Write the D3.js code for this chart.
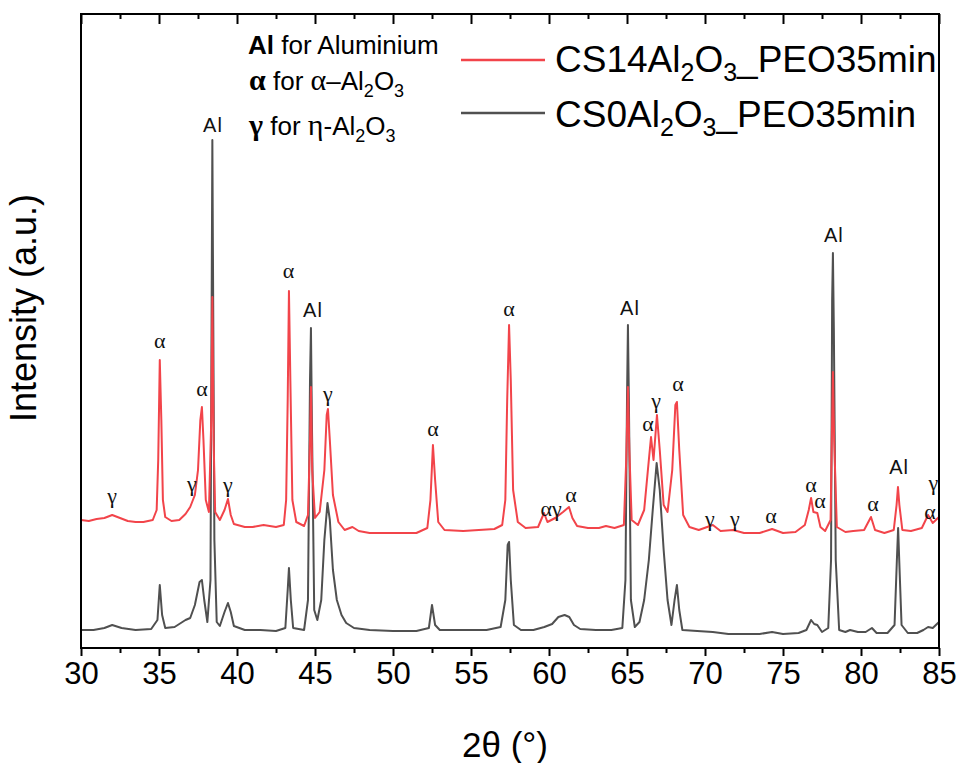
<!DOCTYPE html>
<html>
<head>
<meta charset="utf-8">
<script src="https://cdn.jsdelivr.net/npm/d3@7"></script>
<style>
  body { margin: 0; background: #fff; }
  svg { display: block; font-family: "Liberation Sans", Arial, sans-serif; }
  svg .greek { font-family: "Liberation Serif", "Times New Roman", serif; }
</style>
</head>
<body>
<div id="chart"></div>
<script>
// XRD patterns, [2theta (deg), intensity (a.u.)]
const cs14Pattern = [
    [30.0,1280],[30.5,1270],[31.0,1290],[31.5,1300],[32.0,1330],[32.5,1300],[33.0,1270],[33.5,1260],
    [34.0,1260],[34.6,1280],[34.85,1380],[34.95,1880],[35.05,2880],[35.15,2280],[35.25,1480],[35.4,1310],
    [35.8,1270],[36.3,1280],[36.7,1340],[37.0,1410],[37.3,1530],[37.5,1780],[37.65,2280],[37.75,2410],
    [37.85,2080],[38.0,1480],[38.2,1360],[38.35,2280],[38.42,3510],[38.5,2080],[38.6,1360],[38.9,1280],
    [39.2,1380],[39.42,1490],[39.6,1330],[39.8,1240],[40.5,1210],[41.0,1210],[41.7,1230],[42.5,1210],
    [43.0,1230],[43.15,1480],[43.25,2480],[43.33,3570],[43.42,2680],[43.55,1480],[43.8,1260],[44.3,1220],
    [44.55,1330],[44.68,2080],[44.74,2610],[44.82,1780],[45.0,1300],[45.3,1360],[45.6,1780],[45.75,2330],
    [45.83,2390],[45.95,2080],[46.15,1530],[46.5,1260],[46.9,1180],[47.4,1210],[47.8,1170],[48.5,1150],
    [49.5,1150],[50.5,1150],[51.5,1150],[52.2,1200],[52.4,1480],[52.56,2030],[52.7,1680],[52.9,1260],
    [53.3,1180],[54.5,1170],[55.5,1180],[56.5,1190],[57.0,1230],[57.2,1480],[57.32,2480],[57.44,3230],
    [57.55,2680],[57.7,1580],[58.0,1260],[58.5,1200],[59.3,1210],[59.68,1350],[59.9,1260],[60.4,1300],
    [60.9,1360],[61.28,1410],[61.5,1300],[61.8,1220],[62.5,1200],[63.2,1200],[63.65,1220],[64.2,1200],
    [64.8,1230],[64.95,1880],[65.06,2610],[65.15,1980],[65.3,1280],[65.7,1230],[66.1,1380],[66.4,1880],
    [66.54,2110],[66.7,1880],[66.92,2330],[67.1,1980],[67.35,1430],[67.6,1360],[67.9,1780],[68.1,2430],
    [68.2,2460],[68.35,1980],[68.6,1330],[69.0,1210],[69.6,1180],[70.5,1230],[71.0,1170],[71.8,1180],
    [72.5,1150],[73.5,1150],[74.3,1190],[75.0,1150],[75.8,1160],[76.4,1230],[76.65,1380],[76.8,1500],
    [76.95,1360],[77.2,1350],[77.4,1210],[77.7,1170],[78.05,1280],[78.15,2280],[78.2,2760],[78.28,2080],
    [78.45,1210],[79.0,1160],[79.5,1170],[80.2,1180],[80.64,1310],[80.9,1180],[81.5,1150],[82.1,1180],
    [82.28,1430],[82.37,1610],[82.46,1430],[82.65,1180],[83.2,1170],[83.9,1200],[84.3,1330],[84.6,1250],
    [85.0,1310]
];

const cs0Pattern = [
    [30.0,180],[30.8,180],[31.5,200],[32.0,230],[32.6,200],[33.5,180],[34.5,190],[34.9,280],
    [35.05,630],[35.2,330],[35.4,200],[36.0,210],[36.5,260],[36.7,280],[37.0,300],[37.3,430],
    [37.6,660],[37.75,680],[37.9,480],[38.1,260],[38.3,680],[38.42,5080],[38.55,1080],[38.7,260],
    [38.9,220],[39.2,360],[39.42,450],[39.6,360],[39.8,220],[40.5,180],[41.5,180],[42.5,170],
    [43.1,200],[43.25,580],[43.33,800],[43.45,480],[43.6,200],[44.3,180],[44.55,480],[44.68,2680],
    [44.74,3200],[44.8,2280],[44.95,380],[45.15,280],[45.4,480],[45.6,1080],[45.8,1450],[45.95,1280],
    [46.15,780],[46.4,480],[46.7,330],[47.0,250],[47.5,200],[48.5,180],[50.0,170],[51.5,170],
    [52.3,200],[52.5,430],[52.7,230],[53.0,180],[54.5,180],[56.0,180],[56.9,210],[57.2,480],
    [57.35,1030],[57.44,1060],[57.55,680],[57.75,230],[58.2,180],[59.0,180],[59.7,210],[60.2,240],
    [60.6,310],[61.0,330],[61.3,310],[61.6,230],[62.0,190],[63.0,180],[64.0,180],[64.7,200],
    [64.9,680],[65.0,2480],[65.06,3230],[65.12,2480],[65.25,480],[65.5,210],[65.8,260],[66.1,480],
    [66.4,880],[66.65,1380],[66.9,1850],[67.1,1580],[67.35,980],[67.6,480],[67.85,230],[68.05,480],
    [68.2,630],[68.35,380],[68.55,180],[69.5,170],[70.5,160],[71.5,140],[72.5,140],[73.5,140],
    [74.3,160],[75.0,140],[76.0,150],[76.5,180],[76.8,280],[77.0,240],[77.2,230],[77.5,160],
    [77.9,200],[78.08,880],[78.15,3480],[78.2,3950],[78.26,3180],[78.38,880],[78.6,180],[79.0,160],
    [79.3,180],[79.8,160],[80.3,160],[80.7,200],[81.0,150],[81.7,150],[82.15,230],[82.3,880],
    [82.38,1200],[82.45,880],[82.6,230],[83.0,150],[83.6,150],[84.0,180],[84.3,210],[84.6,200],
    [85.0,260]
];

// phase labels: [2theta, intensity, text]
const peakLabels = [
    [32.0,1530,"γ"],[35.05,3080,"α"],[37.1,1650,"γ"],[37.76,2600,"α"],[38.46,5230,"Al"],
    [39.42,1640,"γ"],[43.3,3780,"α"],[44.87,3380,"Al"],[45.83,2550,"γ"],[52.56,2200,"α"],
    [57.44,3400,"α"],[60.13,1400,"αγ"],[61.41,1540,"α"],[65.19,3400,"Al"],[66.35,2250,"α"],
    [66.86,2480,"γ"],[68.27,2650,"α"],[70.32,1300,"γ"],[71.92,1300,"γ"],[74.23,1330,"α"],
    [76.79,1640,"α"],[77.37,1480,"α"],[78.26,4130,"Al"],[80.77,1450,"α"],[82.44,1810,"Al"],
    [84.64,1660,"γ"],[84.42,1370,"α"]
];

const seriesColors = ["#f2444a", "#505050"];
const xMajorTicks = [30, 35, 40, 45, 50, 55, 60, 65, 70, 75, 80, 85];
const xMinorTicks = [32.5, 37.5, 42.5, 47.5, 52.5, 57.5, 62.5, 67.5, 72.5, 77.5, 82.5];

const W = 959, H = 763;
const margin = { top: 14, right: 20, bottom: 115, left: 81 };
const width = W - margin.left - margin.right;
const height = H - margin.top - margin.bottom;

const svg = d3.select("#chart").append("svg")
    .attr("width", W)
    .attr("height", H);

const g = svg.append("g")
    .attr("transform", `translate(${margin.left},${margin.top})`);

const x = d3.scaleLinear().domain([30, 85]).range([0, width]);
const y = d3.scaleLinear().domain([0, 6340]).range([height, 0]);

const line = d3.line()
    .x(d => x(d[0]))
    .y(d => y(d[1]));

// gray first, red drawn over it
g.append("path")
    .datum(cs0Pattern)
    .attr("fill", "none")
    .attr("stroke", seriesColors[1])
    .attr("stroke-width", 2)
    .attr("stroke-linejoin", "round")
    .attr("d", line);

g.append("path")
    .datum(cs14Pattern)
    .attr("fill", "none")
    .attr("stroke", seriesColors[0])
    .attr("stroke-width", 2)
    .attr("stroke-linejoin", "round")
    .attr("d", line);

// peak labels
g.selectAll("text.peak")
    .data(peakLabels)
    .enter().append("text")
    .attr("class", d => d[2] === "Al" ? "peak" : "peak greek")
    .attr("x", d => x(d[0]))
    .attr("y", d => y(d[1]))
    .attr("text-anchor", "middle")
    .attr("dominant-baseline", "central")
    .attr("font-size", d => d[2] === "Al" ? 20 : 22)
    .attr("letter-spacing", d => d[2] === "Al" ? 1 : 0)
    .attr("fill", "#111")
    .text(d => d[2]);

// axes: bottom ticks outward, top ticks inward, no y ticks
function tickAxis(sel, values, size, labels) {
    sel.call(d3.axisBottom(x).tickValues(values).tickSize(size)
            .tickFormat(labels ? d3.format("d") : ""))
        .call(a => a.select(".domain").remove())
        .call(a => a.selectAll("line").attr("stroke-width", 2));
}

g.append("g")
    .attr("transform", `translate(0,${height})`)
    .call(tickAxis, xMajorTicks, 8, true)
    .call(a => a.selectAll("text").attr("font-size", 31).attr("dy", "0.72em").attr("y", 14).attr("fill", "#000"));

g.append("g")
    .attr("transform", `translate(0,${height})`)
    .call(tickAxis, xMinorTicks, 5, false);

g.append("g").call(tickAxis, xMajorTicks, 10, false);
g.append("g").call(tickAxis, xMinorTicks, 5, false);

// frame
g.append("rect")
    .attr("width", width)
    .attr("height", height)
    .attr("fill", "none")
    .attr("stroke", "#000")
    .attr("stroke-width", 2);

// axis titles
svg.append("text")
    .attr("x", margin.left + width / 2 - 5)
    .attr("y", 757)
    .attr("text-anchor", "middle")
    .attr("font-size", 35)
    .text("2θ (°)");

svg.append("text")
    .attr("transform", "translate(36,308) rotate(-90)")
    .attr("text-anchor", "middle")
    .attr("font-size", 36)
    .text("Intensity (a.u.)");

// phase key
function addAl2O3(t, big, small, drop) {
    t.append("tspan").text("Al");
    t.append("tspan").attr("font-size", small).attr("dy", drop).text("2");
    t.append("tspan").attr("font-size", big).attr("dy", -drop).text("O");
    t.append("tspan").attr("font-size", small).attr("dy", drop).text("3");
}

const key = svg.append("g").attr("font-size", 26).attr("fill", "#000");

const k1 = key.append("text").attr("x", 248).attr("y", 54);
k1.append("tspan").attr("font-weight", "bold").text("Al");
k1.append("tspan").text(" for Aluminium");

const k2 = key.append("text").attr("x", 249).attr("y", 90);
k2.append("tspan").attr("class", "greek").attr("font-weight", "bold").attr("font-size", 30).text("α");
k2.append("tspan").text(" for ");
k2.append("tspan").attr("class", "greek").attr("font-size", 30).text("α");
k2.append("tspan").text("–");
addAl2O3(k2, 26, 18, 7);

const k3 = key.append("text").attr("x", 249).attr("y", 135);
k3.append("tspan").attr("class", "greek").attr("font-weight", "bold").attr("font-size", 30).text("γ");
k3.append("tspan").text(" for ");
k3.append("tspan").attr("class", "greek").attr("font-size", 30).text("η");
k3.append("tspan").text("-");
addAl2O3(k3, 26, 18, 7);

// legend
const legendRows = [
    { prefix: "CS14", color: seriesColors[0], ly: 60, ty: 72 },
    { prefix: "CS0", color: seriesColors[1], ly: 113, ty: 127 }
];

const legend = svg.append("g");
legendRows.forEach(r => {
    legend.append("line")
        .attr("x1", 461).attr("x2", 545)
        .attr("y1", r.ly).attr("y2", r.ly)
        .attr("stroke", r.color)
        .attr("stroke-width", 2.5);
    const t = legend.append("text")
        .attr("x", 555).attr("y", r.ty)
        .attr("font-size", 37);
    t.append("tspan").text(r.prefix);
    addAl2O3(t, 37, 25, 9);
    t.append("tspan").attr("font-size", 37).attr("dy", -9).text("_PEO35min");
});
</script>
</body>
</html>
